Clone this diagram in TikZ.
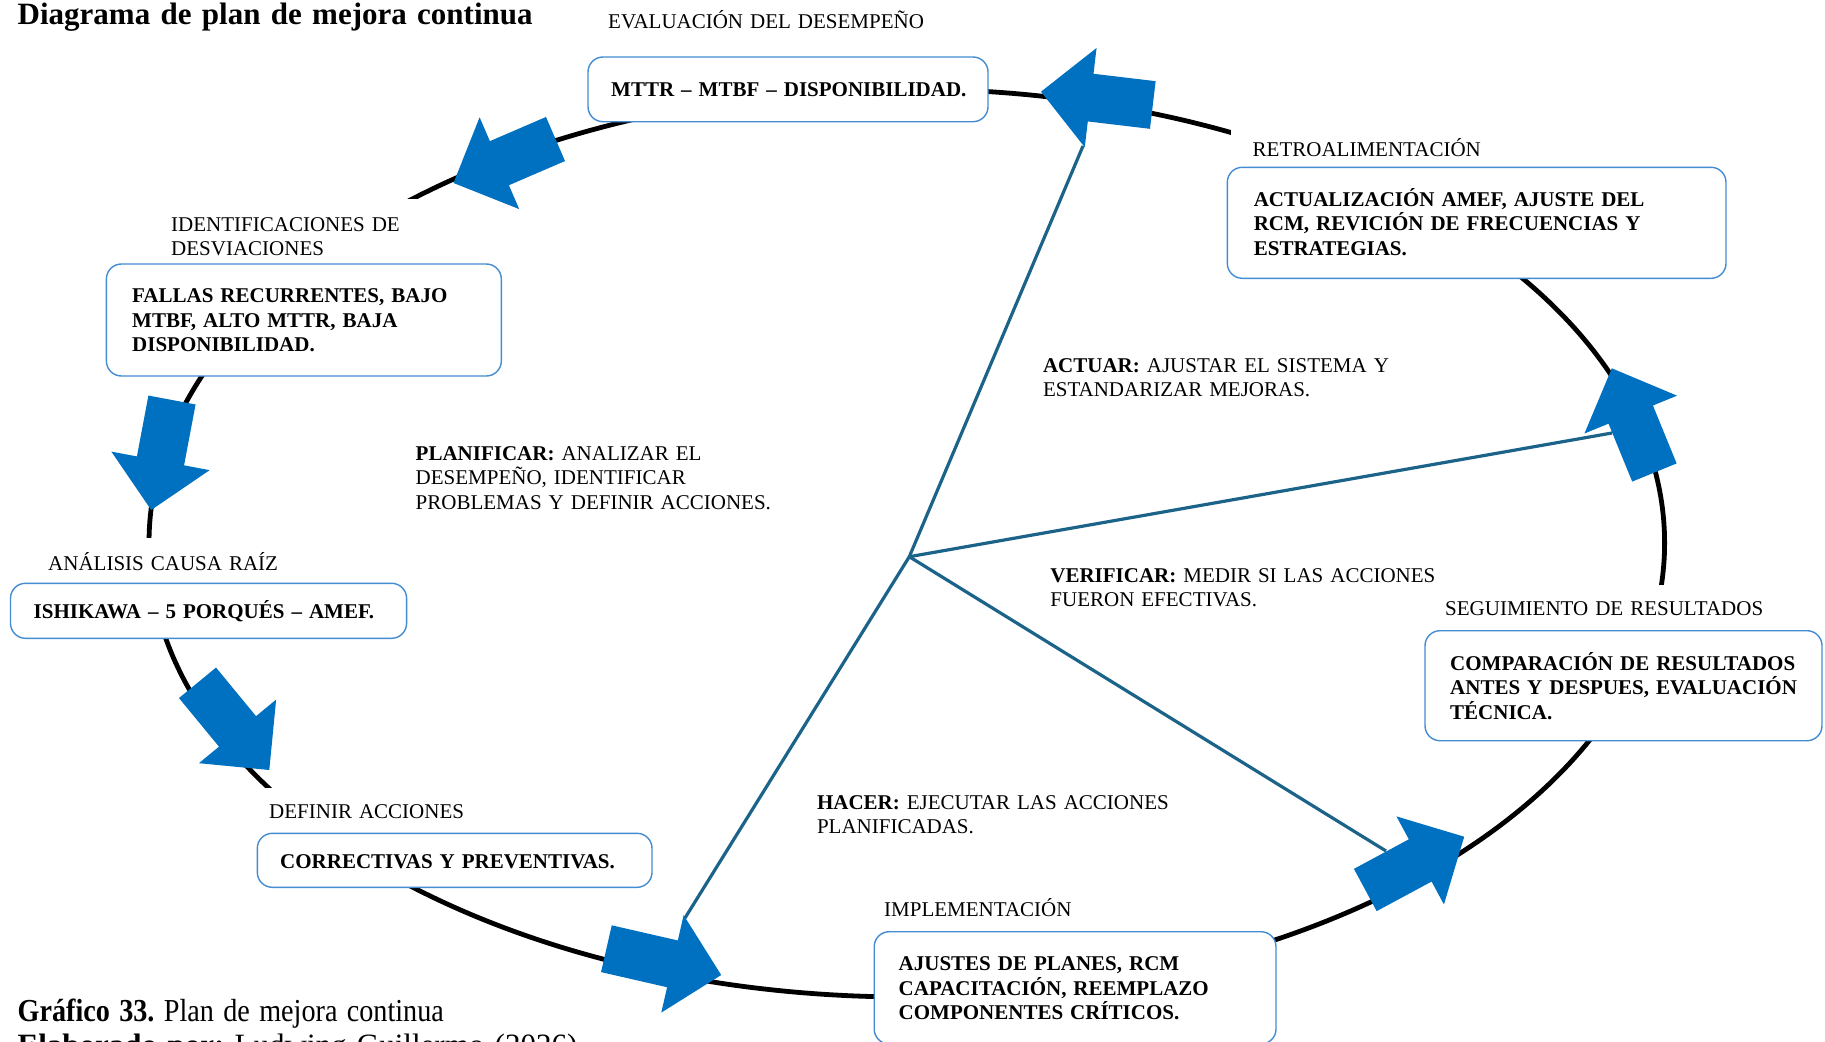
\documentclass[tikz,border=0pt]{standalone}
\usepackage{fontspec}
\setmainfont{Liberation Serif}
\usetikzlibrary{calc}
\definecolor{arrowblue}{RGB}{0,112,192}
\definecolor{spokecol}{RGB}{28,99,138}
\definecolor{boxline}{RGB}{68,140,210}
\newcommand{\blockarrow}[3]{%
  \coordinate (#1t) at #2;
  \coordinate (#1p) at #3;
  \coordinate (#1h) at ($(#1p)!50pt!(#1t)$);
  \fill[arrowblue] ($(#1t)!24pt!90:(#1p)$) -- ($(#1h)!24pt!90:(#1p)$) -- ($(#1h)!50pt!90:(#1p)$) -- (#1p)
    -- ($(#1h)!50pt!-90:(#1p)$) -- ($(#1h)!24pt!-90:(#1p)$) -- ($(#1t)!24pt!-90:(#1p)$) -- cycle;
}
\tikzset{
  lbl/.style={anchor=base west, inner sep=0pt, font=\fontsize{21}{24.5}\selectfont, align=left, text width=620pt},
  bxt/.style={lbl, font=\fontsize{21}{24.5}\selectfont\bfseries},
  captxt/.style={lbl, font=\fontsize{32}{36}\selectfont, xscale=0.88, transform shape},
  authtxt/.style={lbl, font=\fontsize{31}{36}\selectfont},
  bx/.style={draw=boxline, line width=1.4pt, rounded corners=15pt, fill=white},
  patch/.style={fill=white},
  ring/.style={line width=4.8pt, draw=black},
  spokeline/.style={draw=spokecol, line width=3.2pt},
}
\begin{document}
\frenchspacing
\begin{tikzpicture}[x=1pt,y=-1pt]
\useasboundingbox (0,0) rectangle (1825,1041);
\clip (0,0) rectangle (1825,1041);
% cycle ellipse
\draw[ring] (906.8,543) ellipse [x radius=757.8pt, y radius=454pt];
% white backgrounds of the stage labels
\fill[patch] (160,199) rectangle (420,265);
\fill[patch] (30,538) rectangle (300,583);
\fill[patch] (250,788) rectangle (480,833);
\fill[patch] (1425,585) rectangle (1800,631);
\fill[patch] (1231,118) rectangle (1600,167);
% content boxes
\draw[bx] (588,57) rectangle (988,121.7);
\draw[bx] (106.4,264) rectangle (501.3,376);
\draw[bx] (10.5,583.3) rectangle (406.6,638.3);
\draw[bx] (257.3,833.3) rectangle (652,887.3);
\draw[bx] (874.2,931.7) rectangle (1276,1044);
\draw[bx] (1425,630.7) rectangle (1822,740.7);
\draw[bx] (1227.3,167.3) rectangle (1726,278.3);
% spokes
\coordinate (hub) at (909.3,556.7);
\coordinate (s7) at (1083,146);
\coordinate (s6) at (1612,433);
\coordinate (s5) at (1386,851);
\coordinate (s4) at (685,918);
\draw[spokeline] (hub) -- (s7);
\draw[spokeline] (hub) -- (s6);
\draw[spokeline] (hub) -- (s5);
\draw[spokeline] (hub) -- (s4);
% block arrows
\blockarrow{a1}{(555.5,139)}{(453.5,183)}
\blockarrow{a2}{(172,400)}{(151.2,510)}
\blockarrow{a3}{(197.5,682.8)}{(269.3,770)}
\blockarrow{a4}{(606.4,948.7)}{(721.2,975)}
\blockarrow{a5}{(1365.3,890)}{(1464.2,836.7)}
\blockarrow{a6}{(1654.4,472.5)}{(1611.8,368.3)}
\blockarrow{a7}{(1152.8,105)}{(1041,91.7)}
% title and captions
\node[lbl, font=\fontsize{31}{36}\selectfont\bfseries] (title) at (17.5,24.5) {Diagrama de plan de mejora continua};
\node[captxt] (cap) at (17.5,1021.5) {\textbf{Gráfico 33.} Plan de mejora continua};
\node[authtxt] (auth) at (17.5,1055) {\textbf{Elaborado por:} Ludwing Guillermo (2026)};
% stage labels
\node[lbl] (l1) at (608,28.5) {EVALUACIÓN DEL DESEMPEÑO};
\node[lbl] (l2) at (171,231) {IDENTIFICACIONES DE\\DESVIACIONES};
\node[lbl] (l3) at (48,570.7) {ANÁLISIS CAUSA RAÍZ};
\node[lbl] (l4) at (269,818.3) {DEFINIR ACCIONES};
\node[lbl] (l5) at (884,916.7) {IMPLEMENTACIÓN};
\node[lbl] (l6) at (1445,615) {SEGUIMIENTO DE RESULTADOS};
\node[lbl] (l7) at (1252.5,156.7) {RETROALIMENTACIÓN};
% box texts
\node[bxt] (t1) at (611,96.6) {MTTR – MTBF – DISPONIBILIDAD.};
\node[bxt] (t2) at (132,302.7) {FALLAS RECURRENTES, BAJO\\MTBF, ALTO MTTR, BAJA\\DISPONIBILIDAD.};
\node[bxt] (t3) at (33.5,618.3) {ISHIKAWA – 5 PORQUÉS – AMEF.};
\node[bxt] (t4) at (280,868.3) {CORRECTIVAS Y PREVENTIVAS.};
\node[bxt] (t5) at (898.5,970.7) {AJUSTES DE PLANES, RCM\\CAPACITACIÓN, REEMPLAZO\\COMPONENTES CRÍTICOS.};
\node[bxt] (t6) at (1450,670) {COMPARACIÓN DE RESULTADOS\\ANTES Y DESPUES, EVALUACIÓN\\TÉCNICA.};
\node[bxt] (t7) at (1253.6,206) {ACTUALIZACIÓN AMEF, AJUSTE DEL\\RCM, REVICIÓN DE FRECUENCIAS Y\\ESTRATEGIAS.};
% PDCA labels
\node[lbl] (p1) at (415.5,460) {\textbf{PLANIFICAR:} ANALIZAR EL\\DESEMPEÑO, IDENTIFICAR\\PROBLEMAS Y DEFINIR ACCIONES.};
\node[lbl] (p2) at (1042.8,372.3) {\textbf{ACTUAR:} AJUSTAR EL SISTEMA Y\\ESTANDARIZAR MEJORAS.};
\node[lbl] (p3) at (1050.2,582.3) {\textbf{VERIFICAR:} MEDIR SI LAS ACCIONES\\FUERON EFECTIVAS.};
\node[lbl] (p4) at (816.8,809.3) {\textbf{HACER:} EJECUTAR LAS ACCIONES\\PLANIFICADAS.};
\end{tikzpicture}
\end{document}
